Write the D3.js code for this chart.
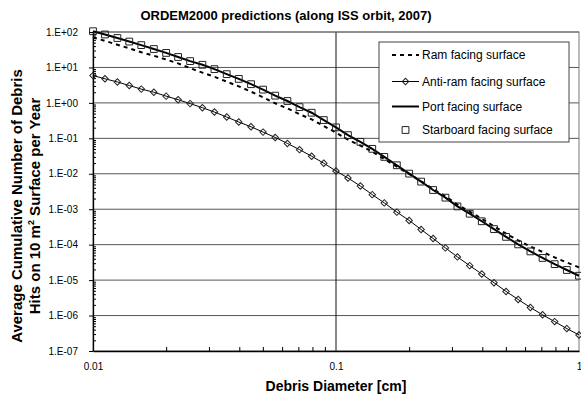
<!DOCTYPE html>
<html>
<head>
<meta charset="utf-8">
<script src="https://cdn.jsdelivr.net/npm/d3@7"></script>
<style>
  body { margin: 0; background: #fff; }
  svg { display: block; font-family: Arial, "Liberation Sans", sans-serif; }
</style>
</head>
<body>
<div class="box"></div>
<script>
// diametres [cm], 20 points par decade
const diameters = [0.01, 0.0112, 0.0126, 0.0141, 0.0158, 0.0178, 0.02, 0.0224, 0.0251, 0.0282,
  0.0316, 0.0355, 0.0398, 0.0447, 0.0501, 0.0562, 0.0631, 0.0708, 0.0794, 0.0891,
  0.1, 0.112, 0.126, 0.141, 0.158, 0.178, 0.2, 0.224, 0.251, 0.282,
  0.316, 0.355, 0.398, 0.447, 0.501, 0.562, 0.631, 0.708, 0.794, 0.891, 1]

const ramValues = [70.8, 56.2, 43.7, 34.7, 26.9, 21.4, 16.8, 13.0, 9.55, 7.14,
  5.46, 3.98, 2.93, 2.07, 1.44, 0.975, 0.698, 0.479, 0.344, 0.222,
  0.144, 0.0914, 0.0625, 0.0420, 0.0261, 0.0158, 9.91e-3, 6.15e-3, 3.72e-3, 2.32e-3,
  1.35e-3, 8.57e-4, 5.37e-4, 3.31e-4, 2.04e-4, 1.32e-4, 8.91e-5, 6.24e-5, 4.37e-5, 3.13e-5, 2.29e-5]

const antiRamValues = [5.89, 4.79, 3.89, 3.09, 2.45, 2.00, 1.55, 1.23, 0.955, 0.731,
  0.552, 0.399, 0.288, 0.212, 0.150, 0.106, 0.0718, 0.0479, 0.0313, 0.0198,
  0.0120, 7.60e-3, 4.51e-3, 2.58e-3, 1.51e-3, 8.28e-4, 4.82e-4, 2.68e-4, 1.49e-4, 8.11e-5,
  4.51e-5, 2.56e-5, 1.49e-5, 8.43e-6, 4.79e-6, 2.84e-6, 1.69e-6, 1.05e-6, 6.76e-7, 4.29e-7, 2.84e-7]

const portValues = [105, 85.1, 67.6, 53.7, 42.7, 33.1, 25.7, 19.7, 15.1, 11.9,
  8.95, 6.46, 4.75, 3.37, 2.37, 1.60, 1.13, 0.759, 0.527, 0.328,
  0.204, 0.123, 0.0796, 0.0505, 0.0299, 0.0174, 0.0101, 6.01e-3, 3.48e-3, 2.12e-3,
  1.20e-3, 7.46e-4, 4.57e-4, 2.75e-4, 1.66e-4, 1.02e-4, 6.46e-5, 4.22e-5, 2.82e-5, 1.93e-5, 1.33e-5]

// meme courbe que port (marqueurs seuls)
const starboardValues = portValues.slice()

const yTicks = [1e-7, 1e-6, 1e-5, 1e-4, 1e-3, 1e-2, 1e-1, 1e0, 1e1, 1e2]
const xTicks = [0.01, 0.1, 1]
const legendLabels = ['Ram facing surface', 'Anti-ram facing surface', 'Port facing surface', 'Starboard facing surface']

const svg = d3.select('.box')
  .append('svg')
  .attr('width', 581)
  .attr('height', 396)
  .style('background-color', '#fff')

const plot = {left: 93, right: 579, top: 32, bottom: 351}

const x = d3.scaleLog().domain([0.01, 1]).range([plot.left, plot.right])
const y = d3.scaleLog().domain([1e-7, 1e2]).range([plot.bottom, plot.top])

// titre
svg.append('text')
  .attr('x', 286).attr('y', 20)
  .attr('text-anchor', 'middle')
  .style('font-size', '13px').style('font-weight', 'bold')
  .text('ORDEM2000 predictions (along ISS orbit, 2007)')

// grille horizontale
svg.append('g').selectAll('line')
  .data(yTicks.slice(1))
  .enter().append('line')
  .attr('x1', plot.left).attr('x2', plot.right)
  .attr('y1', d => y(d)).attr('y2', d => y(d))
  .attr('stroke', '#555').attr('stroke-width', 1)

// grille verticale a 0.1
svg.append('line')
  .attr('x1', x(0.1)).attr('x2', x(0.1))
  .attr('y1', plot.top).attr('y2', plot.bottom)
  .attr('stroke', '#111').attr('stroke-width', 1)

// cadre
svg.append('rect')
  .attr('x', plot.left).attr('y', plot.top)
  .attr('width', plot.right - plot.left).attr('height', plot.bottom - plot.top)
  .attr('fill', 'none').attr('stroke', '#777')

// axe Y
const fmtExp = d => {
  const e = Math.round(Math.log10(d))
  return '1.E' + (e < 0 ? '-' : '+') + String(Math.abs(e)).padStart(2, '0')
}
const yMinor = []
yTicks.slice(0, -1).forEach(t => { for (let k = 2; k < 10; k++) yMinor.push(t * k) })

svg.append('g')
  .attr('transform', `translate(${plot.left},0)`)
  .call(d3.axisLeft(y).tickValues(yMinor).tickSize(-3).tickFormat(''))
  .call(g => g.select('.domain').remove())
const gy = svg.append('g')
  .attr('transform', `translate(${plot.left},0)`)
  .call(d3.axisLeft(y).tickValues(yTicks).tickFormat(fmtExp).tickSize(4).tickPadding(11).tickSizeOuter(0))
gy.selectAll('text').style('font-size', '10px').style('font-family', 'Arial, "Liberation Sans", sans-serif').attr('fill', '#000')

// axe X
const xMinor = []
xTicks.slice(0, -1).forEach(t => { for (let k = 2; k < 10; k++) xMinor.push(t * k) })
svg.append('g')
  .attr('transform', `translate(0,${plot.bottom})`)
  .call(d3.axisBottom(x).tickValues(xMinor).tickSize(-4).tickFormat(''))
  .call(g => g.select('.domain').remove())
const gx = svg.append('g')
  .attr('transform', `translate(0,${plot.bottom})`)
  .call(d3.axisBottom(x).tickValues(xTicks).tickFormat(d => String(d)).tickSize(0).tickPadding(12).tickSizeOuter(0))
gx.selectAll('text').style('font-size', '10px').style('font-family', 'Arial, "Liberation Sans", sans-serif').attr('fill', '#000')
svg.selectAll('.domain').attr('stroke', '#000').attr('stroke-width', 1.3)

// titres des axes
svg.append('text')
  .attr('x', x(0.1)).attr('y', 391)
  .attr('text-anchor', 'middle')
  .style('font-size', '14px').style('font-weight', 'bold')
  .text('Debris Diameter [cm]')

const yTitle = svg.append('g').attr('transform', 'translate(0,206) rotate(-90)')
yTitle.append('text')
  .attr('x', 0).attr('y', 22)
  .attr('text-anchor', 'middle')
  .style('font-size', '15px').style('font-weight', 'bold')
  .text('Average Cumulative Number of Debris')
const line2 = yTitle.append('text')
  .attr('x', 0).attr('y', 40)
  .attr('text-anchor', 'middle')
  .style('font-size', '15px').style('font-weight', 'bold')
line2.append('tspan').text('Hits on 10 m')
line2.append('tspan').attr('dy', -6).style('font-size', '9px').text('2')
line2.append('tspan').attr('dy', 6).text(' Surface per Year')

// courbes
const line = vals => d3.line()
  .x((d, i) => x(diameters[i]))
  .y(d => y(d))(vals)

const curves = svg.append('g')
curves.append('path').attr('d', line(ramValues))
  .attr('fill', 'none').attr('stroke', '#000').attr('stroke-width', 2).attr('stroke-dasharray', '4,4')
curves.append('path').attr('d', line(antiRamValues))
  .attr('fill', 'none').attr('stroke', '#000').attr('stroke-width', 1)
curves.append('path').attr('d', line(portValues))
  .attr('fill', 'none').attr('stroke', '#000').attr('stroke-width', 2)

const diamond = d3.symbol(d3.symbolSquare, 21)
const square = d3.symbol(d3.symbolSquare, 46)

curves.selectAll('.diam')
  .data(antiRamValues)
  .enter().append('path')
  .attr('class', 'diam')
  .attr('d', diamond)
  .attr('transform', (d, i) => `translate(${x(diameters[i])},${y(d)}) rotate(45)`)
  .attr('fill', 'none').attr('stroke', '#222').attr('stroke-width', 1)

curves.selectAll('.sq')
  .data(starboardValues)
  .enter().append('path')
  .attr('class', 'sq')
  .attr('d', square)
  .attr('transform', (d, i) => `translate(${x(diameters[i])},${y(d)})`)
  .attr('fill', 'none').attr('stroke', '#222').attr('stroke-width', 1)

// legende
const legend = svg.append('g')
legend.append('rect')
  .attr('x', 379).attr('y', 42).attr('width', 190).attr('height', 100)
  .attr('fill', '#fff').attr('stroke', '#444')

const rowY = [55, 81.5, 106.5, 130]
const items = legend.selectAll('.item')
  .data(legendLabels)
  .enter().append('g')
  .attr('transform', (d, i) => `translate(0,${rowY[i]})`)

items.append('text')
  .attr('x', 422).attr('y', 4)
  .style('font-size', '12px')
  .text(d => d)

items.filter((d, i) => i === 0).append('line')
  .attr('x1', 392).attr('x2', 419).attr('stroke', '#000').attr('stroke-width', 2).attr('stroke-dasharray', '4,4')
items.filter((d, i) => i === 1).append('line')
  .attr('x1', 392).attr('x2', 419).attr('stroke', '#000').attr('stroke-width', 1)
items.filter((d, i) => i === 1).append('path')
  .attr('d', diamond).attr('transform', 'translate(405.5,0) rotate(45)')
  .attr('fill', 'none').attr('stroke', '#222')
items.filter((d, i) => i === 2).append('line')
  .attr('x1', 392).attr('x2', 419).attr('stroke', '#000').attr('stroke-width', 2)
items.filter((d, i) => i === 3).append('path')
  .attr('d', square).attr('transform', 'translate(405.5,0)')
  .attr('fill', 'none').attr('stroke', '#222')
</script>
</body>
</html>
